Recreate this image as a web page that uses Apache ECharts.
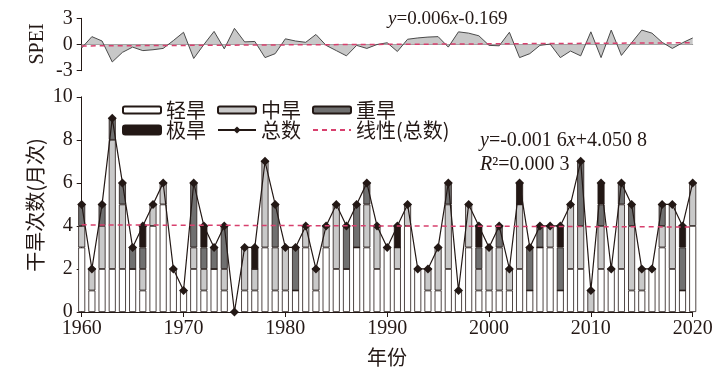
<!DOCTYPE html>
<html><head><meta charset="utf-8">
<script src="https://cdn.jsdelivr.net/npm/echarts@6/dist/echarts.min.js"></script>
<style>html,body{margin:0;padding:0;background:#fff}#c{width:728px;height:377px}</style>
</head><body><div id="c"></div>
<script>
const years = ['1960','1961','1962','1963','1964','1965','1966','1967','1968','1969',
  '1970','1971','1972','1973','1974','1975','1976','1977','1978','1979',
  '1980','1981','1982','1983','1984','1985','1986','1987','1988','1989',
  '1990','1991','1992','1993','1994','1995','1996','1997','1998','1999',
  '2000','2001','2002','2003','2004','2005','2006','2007','2008','2009',
  '2010','2011','2012','2013','2014','2015','2016','2017','2018','2019','2020'];
const tickYears = ['1960','1970','1980','1990','2000','2010','2020'];
// 轻旱
const light = [3,1,2,2,2,2,1,4,5,2, 1,2,1,2,1,0,1,1,3,1, 1,1,3,1,3,2,2,3,3,2, 3,2,4,2,1,1,2,1,3,1, 1,1,1,2,1,3,3,1,2,2, 0,2,2,2,1,1,2,3,2,1, 4];
// 中旱
const moderate = [1,1,2,6,3,0,1,1,1,0, 0,1,1,0,1,0,2,1,4,2, 2,0,1,1,1,3,0,0,2,2, 0,1,1,0,1,2,3,0,2,1, 2,2,1,3,0,0,1,0,3,2, 1,2,0,3,3,1,0,1,3,0, 2];
// 重旱
const severe = [1,0,1,1,1,1,1,0,0,0, 0,3,1,1,2,0,0,0,0,2, 0,2,0,0,0,0,2,2,1,0, 0,0,0,0,0,0,1,0,0,1, 0,1,0,0,2,1,0,2,0,3, 0,1,0,1,1,0,0,1,0,2, 0];
// 极旱
const extreme = [0,0,0,0,0,0,1,0,0,0, 0,0,1,0,0,0,0,1,0,0, 0,0,0,0,0,0,0,0,0,0, 0,1,0,0,0,0,0,0,0,1, 0,0,0,1,0,0,0,1,0,0, 0,1,0,0,0,0,0,0,0,1, 0];
// 总数
const total = [5,2,5,9,6,3,4,5,6,2, 1,6,4,3,4,0,3,3,7,5, 3,3,4,2,4,5,4,5,6,4, 3,4,5,2,2,3,6,1,5,4, 3,4,2,6,3,4,4,4,5,7, 1,6,2,6,5,2,2,5,5,4, 6];
// SPEI
const spei = [-0.4,0.9,0.4,-2.0,-0.9,-0.3,-0.7,-0.6,-0.45,0.45,
  1.4,-1.6,0.0,1.5,-0.5,1.85,0.3,0.35,-1.5,-1.05,
  0.65,0.4,0.25,1.15,-0.1,-0.7,-1.3,-0.1,-0.45,0.0,
  0.2,-0.8,0.6,0.75,0.85,0.9,-0.3,1.45,1.3,1.0,
  -0.1,-0.15,1.4,-1.5,-1.05,-0.1,0.05,-1.5,-0.75,-1.3,
  1.45,-1.5,1.65,-1.25,0.2,1.65,1.3,0.25,-0.45,0.2,
  0.75];
const trendYears = ['1960', '2020'];
const totalTrend = [4.05, 3.95];
const speiTrend = [-0.163, 0.197];
const seriesNames = ['轻旱','中旱','重旱','极旱','总数','线性(总数)'];

const INK = '#231815';
const RED = '#d8406e';
const CLEAR = 'rgba(0,0,0,0)';
const serif = 'Liberation Serif';
const cjk = '"Noto Sans CJK SC"';

const trendPairs = arr => trendYears.map((y, i) => [y, arr[i]]);
const isTick = (idx, val) => tickYears.indexOf(String(val)) >= 0;

function bar(name, data, color) {
  return {
    name, type: 'bar', stack: 'd', xAxisIndex: 1, yAxisIndex: 1,
    barWidth: 7, clip: false, data,
    itemStyle: { color, borderColor: INK, borderWidth: 0.8 },
    emphasis: { disabled: true }
  };
}

const chart = echarts.init(document.getElementById('c'), null, { renderer: 'canvas' });
chart.setOption({
  animation: false,
  backgroundColor: '#fff',
  grid: [
    { left: 81.7, width: 611, top: 18.3, height: 52.4 },
    { left: 81.7, width: 611, top: 96.8, height: 215.2 }
  ],
  xAxis: [
    { gridIndex: 0, type: 'category', data: years, boundaryGap: false,
      axisLine: { show: true, onZero: true, lineStyle: { color: '#808080', width: 1 } },
      axisTick: { show: false }, axisLabel: { show: false }, splitLine: { show: false } },
    { gridIndex: 1, type: 'category', data: years, boundaryGap: false,
      axisLine: { show: true, onZero: false, lineStyle: { color: INK, width: 1 } },
      axisTick: { show: true, inside: false, length: 5, interval: isTick, lineStyle: { color: INK } },
      axisLabel: { color: INK, fontFamily: serif, fontSize: 20, margin: 7, interval: isTick },
      splitLine: { show: false } }
  ],
  yAxis: [
    { gridIndex: 0, type: 'value', min: -3, max: 3, interval: 3,
      axisLine: { show: true, lineStyle: { color: INK, width: 1 } },
      axisTick: { show: true, inside: false, length: 5, lineStyle: { color: INK } },
      axisLabel: { color: INK, fontFamily: serif, fontSize: 20, margin: 9 },
      splitLine: { show: false } },
    { gridIndex: 1, type: 'value', min: 0, max: 10, interval: 2,
      axisLine: { show: true, lineStyle: { color: INK, width: 1 } },
      axisTick: { show: true, inside: false, length: 5, lineStyle: { color: INK } },
      axisLabel: { color: INK, fontFamily: serif, fontSize: 20, margin: 9 },
      splitLine: { show: false } }
  ],
  legend: [
    { data: seriesNames.slice(0, 3), left: 122, top: 100, itemWidth: 38, itemHeight: 7, itemGap: 11,
      selectedMode: false, padding: 0,
      textStyle: { color: INK, fontFamily: cjk, fontSize: 20, lineHeight: 20 } },
    { data: seriesNames.slice(3), left: 122, top: 120, itemWidth: 38, itemHeight: 9, itemGap: 11,
      selectedMode: false, padding: 0,
      textStyle: { color: INK, fontFamily: cjk, fontSize: 20, lineHeight: 20 } }
  ],
  series: [
    { name: 'SPEI', type: 'line', xAxisIndex: 0, yAxisIndex: 0, data: spei,
      symbol: 'none', lineStyle: { color: '#4a4a4a', width: 1 },
      areaStyle: { color: '#c8c8c8', opacity: 1 }, z: 2 },
    { name: 'SPEI趋势', type: 'line', xAxisIndex: 0, yAxisIndex: 0, data: trendPairs(speiTrend),
      symbol: 'none', lineStyle: { color: RED, width: 1.5, type: [5, 4] }, z: 5 },
    bar(seriesNames[0], light, '#ffffff'),
    bar(seriesNames[1], moderate, '#c9c9c9'),
    bar(seriesNames[2], severe, '#707070'),
    bar(seriesNames[3], extreme, INK),
    { name: seriesNames[4], type: 'line', xAxisIndex: 1, yAxisIndex: 1, data: total,
      symbol: 'diamond', symbolSize: 9, showAllSymbol: true,
      itemStyle: { color: INK }, lineStyle: { color: INK, width: 1.2 }, z: 6 },
    { name: seriesNames[5], type: 'line', xAxisIndex: 1, yAxisIndex: 1, data: trendPairs(totalTrend),
      symbol: 'circle', showSymbol: false, lineStyle: { color: RED, width: 1.5, type: [5, 4] },
      itemStyle: { color: CLEAR, borderColor: CLEAR, borderWidth: 0 }, z: 7 }
  ],
  graphic: [
    { type: 'text', x: 387, y: 357, style: { text: '年份', fontFamily: cjk, fontSize: 20, fill: INK, align: 'center', verticalAlign: 'middle' } },
    { type: 'text', x: 35, y: 205, rotation: Math.PI / 2, style: { text: '干旱次数(月次)', fontFamily: cjk, fontSize: 20, fill: INK, align: 'center', verticalAlign: 'middle' } },
    { type: 'text', x: 38, y: 44, rotation: Math.PI / 2, style: { text: 'SPEI', fontFamily: serif, fontSize: 20, fill: INK, align: 'center', verticalAlign: 'middle' } },
    { type: 'text', x: 388, y: 19, style: { text: '{i|y}=0.006{i|x}-0.169', fontFamily: serif, fontSize: 19, fill: INK, verticalAlign: 'middle',
        rich: { i: { fontStyle: 'italic', fontFamily: serif, fontSize: 19, fill: INK } } } },
    { type: 'text', x: 480, y: 141, style: { text: '{i|y}=-0.001 6{i|x}+4.050 8', fontFamily: serif, fontSize: 20, fill: INK, verticalAlign: 'middle',
        rich: { i: { fontStyle: 'italic', fontFamily: serif, fontSize: 20, fill: INK } } } },
    { type: 'text', x: 480, y: 165, style: { text: '{i|R}²=0.000 3', fontFamily: serif, fontSize: 20, fill: INK, verticalAlign: 'middle',
        rich: { i: { fontStyle: 'italic', fontFamily: serif, fontSize: 20, fill: INK } } } }
  ]
});
</script></body></html>
